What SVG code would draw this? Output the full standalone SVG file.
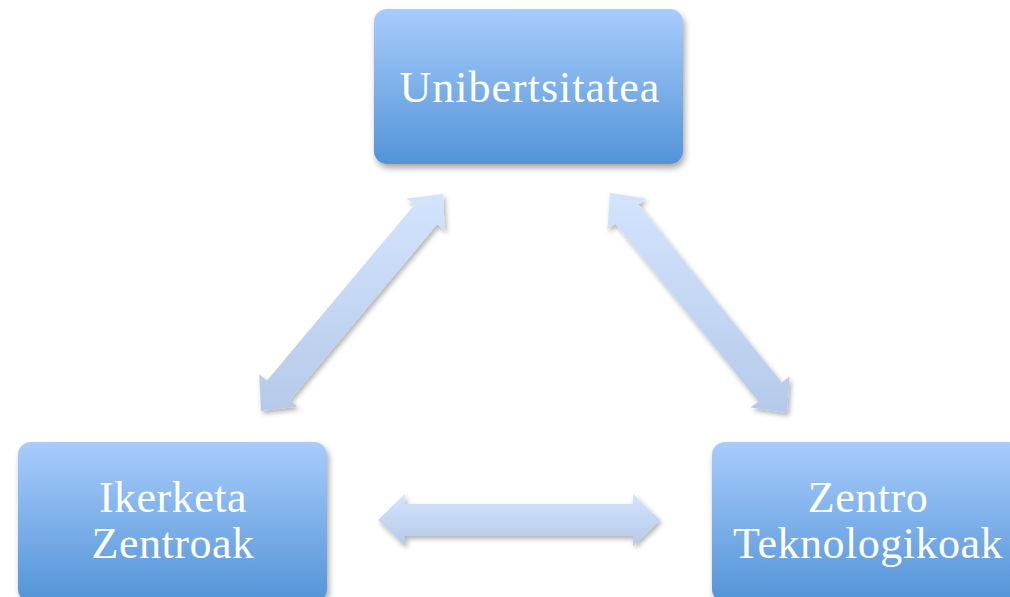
<svg xmlns="http://www.w3.org/2000/svg" width="1010" height="597" viewBox="0 0 1010 597">
  <defs>
    <linearGradient id="boxGrad" x1="0" y1="0" x2="0" y2="1">
      <stop offset="0" stop-color="#a8ccfc"/>
      <stop offset="1" stop-color="#5394d7"/>
    </linearGradient>
    <linearGradient id="arrowGrad" x1="0" y1="0" x2="0" y2="1">
      <stop offset="0" stop-color="#d3e4fc"/>
      <stop offset="1" stop-color="#b5caea"/>
    </linearGradient>
    <filter id="shadow" x="-20%" y="-20%" width="140%" height="140%">
      <feDropShadow dx="2" dy="4" stdDeviation="3" flood-color="#000" flood-opacity="0.35"/>
    </filter>
    <filter id="ashadow" x="-20%" y="-20%" width="140%" height="140%">
      <feDropShadow dx="2" dy="3" stdDeviation="2.5" flood-color="#000" flood-opacity="0.3"/>
    </filter>
  </defs>
  <style>
    .box { fill: url(#boxGrad); filter: url(#shadow); }
    .arrow { fill: url(#arrowGrad); filter: url(#ashadow); }
    .label { font-family: "Liberation Serif", "DejaVu Serif", serif; font-size: 44px; fill: #ffffff; text-anchor: middle; letter-spacing: 0.5px; }
  </style>
  <g id="connectors">
    <polygon class="arrow" points="261,411 297.5,406.4 289.8,400 437.1,224.3 444.8,230.8 443,194 406.5,198.6 414.2,205.1 266.9,380.7 259.2,374.2"/>
    <polygon class="arrow" points="610,193 607.4,229.7 615.2,223.4 758.4,401.4 750.6,407.6 787,413 789.6,376.3 781.8,382.6 638.6,204.6 646.4,198.4"/>
    <polygon class="arrow" points="378,520 405,494 405,504 633,504 633,494 660,520 633,546 633,536 405,536 405,546"/>
  </g>
  <g id="unibertsitatea">
    <rect class="box" x="374" y="9" width="309" height="155" rx="13" ry="13"/>
    <text class="label" x="530" y="102" style="letter-spacing:1px">Unibertsitatea</text>
  </g>
  <g id="ikerketa-zentroak">
    <rect class="box" x="18" y="442" width="309" height="160" rx="13" ry="13"/>
    <text class="label" x="173" y="512">Ikerketa</text>
    <text class="label" x="173" y="558">Zentroak</text>
  </g>
  <g id="zentro-teknologikoak">
    <rect class="box" x="712" y="442" width="309" height="160" rx="13" ry="13"/>
    <text class="label" x="868" y="512">Zentro</text>
    <text class="label" x="868" y="558">Teknologikoak</text>
  </g>
</svg>
